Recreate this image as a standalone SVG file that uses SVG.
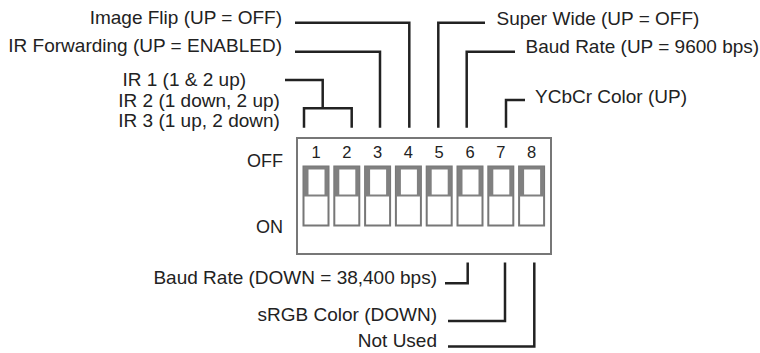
<svg xmlns="http://www.w3.org/2000/svg" width="760" height="353" viewBox="0 0 760 353">
<style>
text{font-family:"Liberation Sans",Arial,sans-serif;fill:#222}
.lbl{font-size:19px}
.end{text-anchor:end}
.num{font-size:16.5px;text-anchor:middle}
.st{font-size:18px;text-anchor:end}
.ln{fill:none;stroke:#222;stroke-width:2.5;stroke-linecap:butt;stroke-linejoin:miter}
.box{fill:#fff;stroke:#777;stroke-width:2}
.sw{fill:#fff;stroke:#777;stroke-width:2}
.up{fill:#808080}
.in{fill:#fff}
</style>
<defs>
<g id="switch">
<rect class="sw" x="0" y="0" width="25" height="59"/>
<rect class="up" x="0" y="0" width="25" height="30"/>
<rect class="in" x="5" y="3" width="16" height="25"/>
</g>
</defs>
<g id="dipbox">
<rect class="box" x="297" y="138" width="254" height="116"/>
<text class="st" x="283" y="167">OFF</text>
<text class="st" x="283" y="233">ON</text>
</g>
<g id="switches">
<g id="sw1"><use href="#switch" x="303.5" y="166.5"/><text class="num" x="316" y="158">1</text></g>
<g id="sw2"><use href="#switch" x="334.3" y="166.5"/><text class="num" x="346.8" y="158">2</text></g>
<g id="sw3"><use href="#switch" x="365.1" y="166.5"/><text class="num" x="377.6" y="158">3</text></g>
<g id="sw4"><use href="#switch" x="395.9" y="166.5"/><text class="num" x="408.4" y="158">4</text></g>
<g id="sw5"><use href="#switch" x="426.7" y="166.5"/><text class="num" x="439.2" y="158">5</text></g>
<g id="sw6"><use href="#switch" x="457.5" y="166.5"/><text class="num" x="470" y="158">6</text></g>
<g id="sw7"><use href="#switch" x="488.3" y="166.5"/><text class="num" x="500.8" y="158">7</text></g>
<g id="sw8"><use href="#switch" x="519.1" y="166.5"/><text class="num" x="531.6" y="158">8</text></g>
</g>
<g id="labels">
<text id="l-imageflip" class="lbl end" x="282" y="24">Image Flip (UP = OFF)</text>
<text id="l-irfwd" class="lbl end" x="282" y="52">IR Forwarding (UP = ENABLED)</text>
<text id="l-ir1" class="lbl" x="122.5" y="86">IR 1 (1 &amp; 2 up)</text>
<text id="l-ir2" class="lbl" x="118.3" y="106.5">IR 2 (1 down, 2 up)</text>
<text id="l-ir3" class="lbl" x="118.3" y="126.5">IR 3 (1 up, 2 down)</text>
<text id="l-superwide" class="lbl" x="496.5" y="25">Super Wide (UP = OFF)</text>
<text id="l-baudup" class="lbl" x="525.5" y="53">Baud Rate (UP = 9600 bps)</text>
<text id="l-ycbcr" class="lbl" x="535" y="103">YCbCr Color (UP)</text>
<text id="l-bauddown" class="lbl end" x="437" y="284">Baud Rate (DOWN = 38,400 bps)</text>
<text id="l-srgb" class="lbl end" x="437" y="321">sRGB Color (DOWN)</text>
<text id="l-notused" class="lbl end" x="437" y="347">Not Used</text>
</g>
<g id="connectors">
<polyline class="ln" points="295,22.7 409.3,22.7 409.3,127.7"/>
<polyline class="ln" points="295,51.7 380,51.7 380,127.7"/>
<polyline class="ln" points="285,80 322.7,80 322.7,108.3"/>
<polyline class="ln" points="304,127.7 304,108.3 351.7,108.3 351.7,127.7"/>
<polyline class="ln" points="485,22.7 438.3,22.7 438.3,127.7"/>
<polyline class="ln" points="515,51.7 466.7,51.7 466.7,127.7"/>
<polyline class="ln" points="525,100 506,100 506,127.7"/>
<polyline class="ln" points="467.7,262.5 467.7,283.3 445,283.3"/>
<polyline class="ln" points="505,262.5 505,321 448,321"/>
<polyline class="ln" points="534.3,262.5 534.3,346.5 448,346.5"/>
</g>
</svg>
